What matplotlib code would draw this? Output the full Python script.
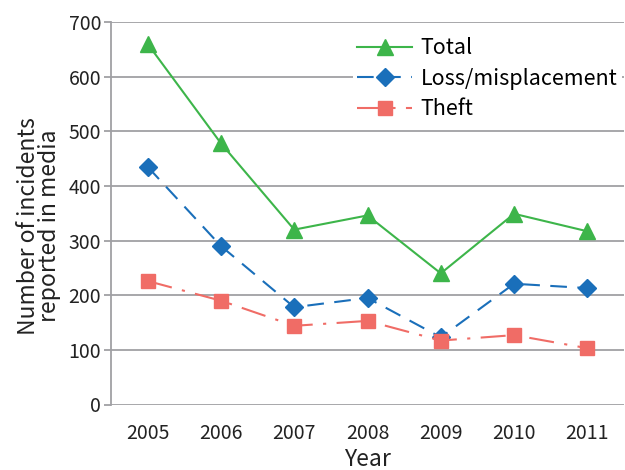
import numpy as np
import matplotlib
matplotlib.use("Agg")
import matplotlib.pyplot as plt

plt.rcParams['font.family'] = ['Noto Sans CJK JP', 'DejaVu Sans']

# Data
years = ['2005', '2006', '2007', '2008', '2009', '2010', '2011']
total = [660, 478, 320, 346, 240, 349, 317]
loss = [435, 290, 178, 195, 123, 221, 213]
theft = [226, 190, 144, 153, 117, 127, 103]

green = '#3db54a'
blue = '#1a6fba'
red = '#f06c66'
grid_gray = '#a0a0a4'

fig = plt.figure(figsize=(6.25, 4.7), dpi=100)
ax = fig.add_axes([111 / 625, 1 - 404.5 / 470, 513 / 625, 382.5 / 470])

x = np.arange(len(years))
ax.plot(x, total, color=green, lw=1.5, ls='-', marker='^', ms=11, label='Total')
ax.plot(x, loss, color=blue, lw=1.5, ls=(0, (8, 5)), marker='D', ms=9, label='Loss/misplacement')
ax.plot(x, theft, color=red, lw=1.5, ls=(0, (12, 5, 1.5, 5)), marker='s', ms=10, label='Theft')

ax.set_xlim(-0.5, len(years) - 0.5)
ax.set_ylim(0, 700)
ax.set_yticks(range(0, 701, 100))
ax.set_xticks(x)
ax.set_xticklabels(years)
ax.yaxis.grid(True, color=grid_gray, lw=1.3)
ax.set_axisbelow(True)

for side in ['top', 'right', 'bottom']:
    ax.spines[side].set_visible(False)
ax.spines['left'].set_color(grid_gray)
ax.spines['left'].set_linewidth(1.3)
ax.tick_params(axis='y', length=5, width=1.3, color=grid_gray, labelsize=14, labelcolor='#222222', pad=2)
ax.tick_params(axis='x', length=0, labelsize=14, labelcolor='#222222', pad=13)

ax.set_xlabel('Year', fontsize=16.5, color='#222222', labelpad=3)
ax.set_ylabel('Number of incidents\nreported in media', fontsize=16.5, color='#222222',
              linespacing=0.9)
ax.yaxis.set_label_coords(-0.097, 0.467)

leg = ax.legend(loc='upper right', bbox_to_anchor=(1.0, 0.977), frameon=True, fancybox=False,
                edgecolor='none', facecolor='white', framealpha=1, fontsize=15.5,
                handlelength=2.55, handletextpad=0.4, labelspacing=0.4, borderpad=0.2,
                borderaxespad=0.1)

fig.savefig('out.png', dpi=100)
